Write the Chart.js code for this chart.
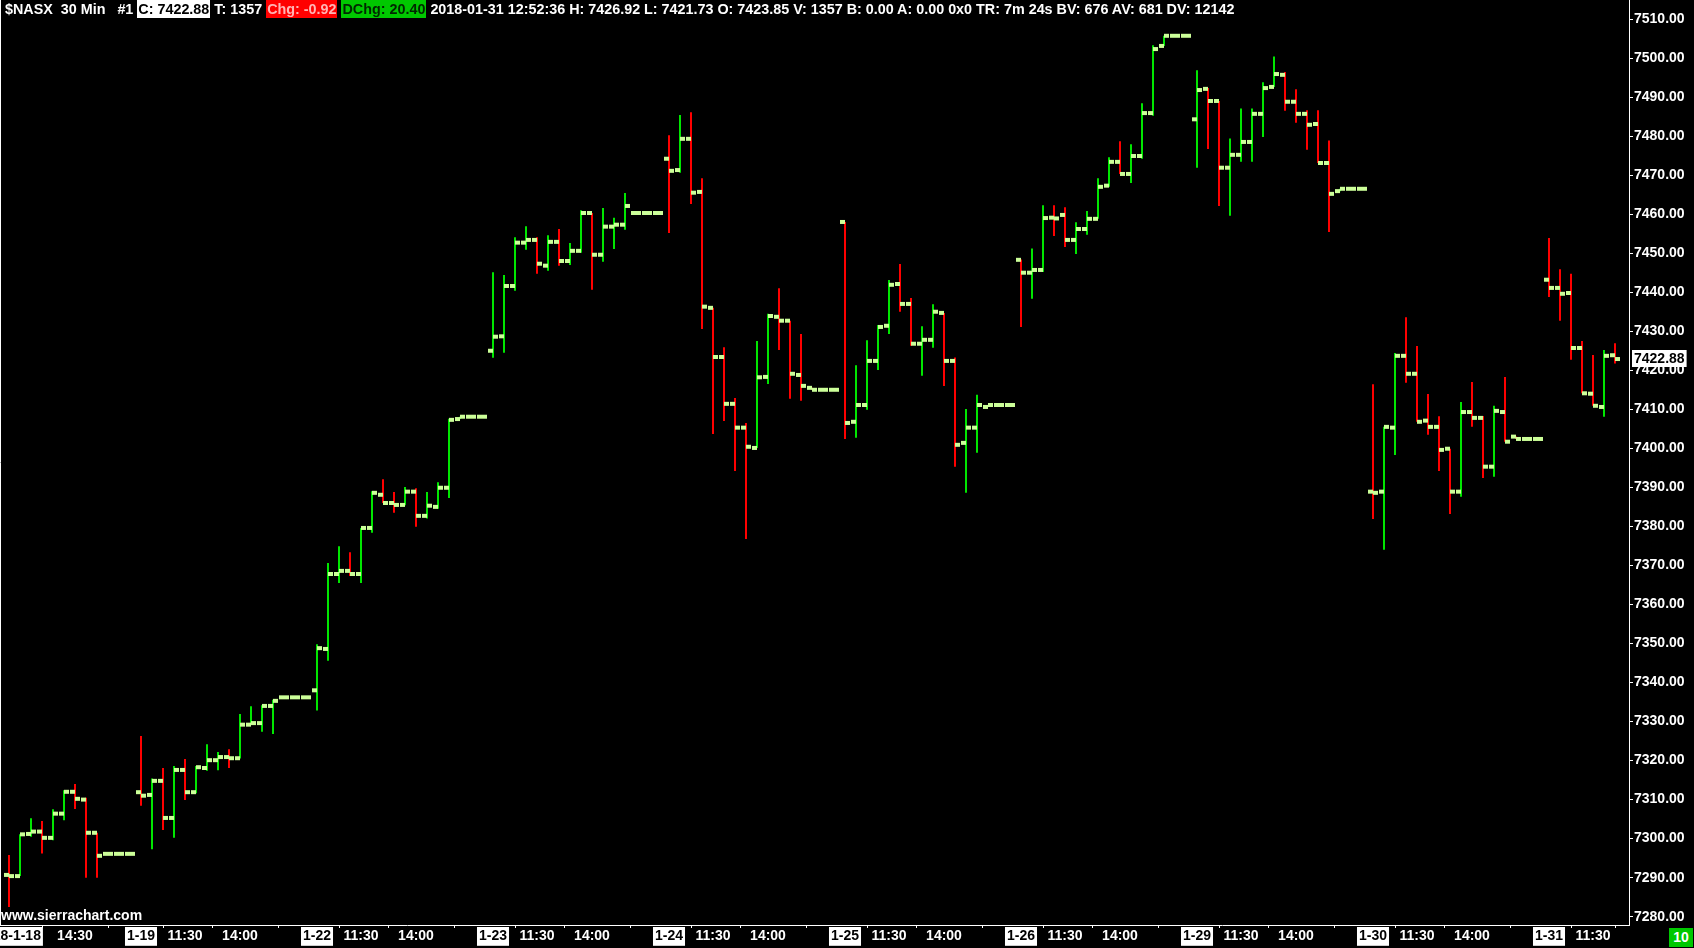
<!DOCTYPE html>
<html><head><meta charset="utf-8">
<script src="https://cdn.jsdelivr.net/npm/chart.js@4.4.1/dist/chart.umd.min.js"></script>
<style>
html,body{margin:0;padding:0;background:#000;overflow:hidden;}
#wrap{position:relative;width:1694px;height:948px;background:#000;}
#c{position:absolute;left:0;top:0;}
.txt{position:absolute;font-family:"Liberation Sans",Arial,sans-serif;font-weight:bold;font-size:14.35px;color:#fff;white-space:pre;}
#hdr{left:5px;top:0;height:18px;line-height:18px;}
#hdr .bx{display:inline-block;padding:0 1px;}
#hdr .w{background:#fff;color:#000;}
#hdr .r{background:#ff0000;color:#ffb4b4;}
#hdr .g{background:#00c800;color:#002800;}
#wm{left:1px;top:907px;line-height:17px;font-size:14px;}
#cnt{left:1669px;top:928px;width:24px;height:19px;line-height:19px;text-align:center;background:#00c800;font-size:14px;}
</style></head>
<body>
<div id="wrap">
<canvas id="c" width="1694" height="948"></canvas>
<div id="hdr" class="txt"></div>
<div id="wm" class="txt">www.sierrachart.com</div>
<div id="cnt" class="txt">10</div>
</div>
<script>
// ---- data: 30 min bars, 2018-01-18 11:30 .. 2018-01-31 12:30 ----
const opens = [
7290.7,7290.4,7301.2,7301.8,7300.2,7306.4,7312.0,7310.0,7301.5,7296.1,7296.1,7296.1,
7311.9,7311.2,7314.8,7305.3,7317.6,7311.9,7318.1,7320.1,7320.9,7320.6,7329.2,7329.6,7334.0,7336.2,7336.2,7336.2,
7338.0,7348.6,7367.8,7368.6,7367.8,7379.6,7388.1,7386.0,7385.5,7388.9,7382.7,7385.0,7389.9,7407.5,7408.1,7408.1,
7425.0,7428.7,7441.6,7452.7,7453.4,7446.8,7452.9,7448.0,7450.6,7460.3,7449.6,7456.8,7457.3,7460.3,7460.3,7460.3,
7474.2,7471.3,7479.3,7465.7,7436.0,7423.4,7411.4,7405.3,7400.1,7418.3,7433.7,7432.7,7418.8,7415.5,7415.0,7415.0,
7458.0,7406.8,7411.1,7422.4,7431.4,7442.1,7437.0,7426.8,7427.8,7434.7,7422.4,7401.4,7405.3,7410.6,7411.1,7411.1,
7448.3,7445.0,7445.7,7459.1,7459.8,7453.4,7456.2,7458.8,7467.3,7473.4,7470.3,7474.9,7485.9,7503.1,7505.7,7505.7,
7484.3,7492.1,7489.0,7471.9,7475.2,7478.5,7485.7,7492.6,7495.7,7488.8,7485.7,7483.1,7473.1,7465.9,7466.5,7466.5,
7388.9,7388.9,7405.3,7423.7,7419.1,7407.1,7405.5,7399.9,7388.9,7409.3,7407.8,7395.3,7409.3,7403.0,7402.4,7402.4,
7443.2,7441.1,7439.8,7425.7,7414.0,7410.6,7423.85];
const highs = [
7295.8,7301.1,7305.2,7304.5,7307.5,7312.4,7314.0,7310.5,7301.5,7296.1,7296.1,7296.1,
7326.3,7315.4,7318.1,7318.6,7320.4,7318.6,7324.2,7322.2,7322.9,7331.9,7333.9,7334.2,7335.6,7336.2,7336.2,7336.2,
7349.8,7370.6,7374.9,7373.4,7379.6,7389.0,7392.1,7388.8,7390.1,7389.8,7388.8,7391.3,7407.6,7408.1,7408.1,7408.1,
7445.1,7444.4,7454.1,7456.9,7454.1,7454.6,7456.2,7452.6,7461.0,7460.3,7461.6,7459.1,7465.4,7460.3,7460.3,7460.3,
7480.2,7485.4,7486.1,7469.2,7436.0,7425.9,7412.9,7406.5,7427.5,7434.5,7441.0,7432.7,7429.3,7415.5,7415.0,7415.0,
7458.0,7421.3,7427.7,7431.6,7443.1,7447.2,7438.5,7431.3,7436.9,7434.7,7423.3,7410.1,7413.7,7411.1,7411.1,7411.1,
7448.4,7451.2,7462.3,7462.3,7461.8,7457.9,7460.8,7469.2,7474.6,7478.7,7477.9,7488.4,7503.3,7505.7,7505.7,7505.7,
7496.9,7492.3,7489.0,7479.4,7487.1,7487.1,7493.8,7500.4,7496.4,7492.0,7486.6,7486.6,7478.9,7466.5,7466.5,7466.5,
7416.4,7405.5,7424.4,7433.6,7426.2,7413.9,7408.2,7399.9,7411.9,7417.0,7408.3,7410.9,7418.3,7403.0,7402.4,7402.4,
7453.9,7445.9,7444.7,7427.5,7423.9,7425.2,7426.92];
const lows = [
7282.5,7290.4,7300.5,7296.2,7299.6,7304.7,7307.6,7290.0,7290.0,7296.1,7296.1,7296.1,
7308.4,7297.3,7302.2,7300.2,7309.9,7311.6,7317.4,7317.5,7318.1,7320.5,7329.2,7327.4,7326.8,7336.2,7336.2,7336.2,
7332.8,7345.6,7365.5,7367.3,7365.5,7378.4,7386.0,7383.5,7385.4,7379.9,7382.0,7384.5,7387.3,7407.5,7408.1,7408.1,
7423.2,7424.5,7440.4,7450.9,7444.7,7445.5,7446.8,7447.0,7450.1,7440.6,7447.8,7451.1,7456.0,7460.3,7460.3,7460.3,
7455.2,7470.6,7462.6,7430.6,7403.7,7407.0,7394.2,7376.8,7400.1,7416.5,7425.2,7412.7,7412.2,7415.0,7415.0,7415.0,
7402.4,7402.7,7409.9,7420.1,7429.3,7435.0,7426.3,7418.6,7425.8,7416.0,7395.3,7388.6,7398.9,7410.6,7411.1,7411.1,
7431.1,7438.3,7445.2,7454.4,7451.6,7449.8,7454.7,7458.8,7467.0,7470.3,7468.0,7474.2,7485.2,7503.1,7505.7,7505.7,
7471.9,7476.7,7462.1,7459.6,7473.4,7473.4,7479.8,7492.6,7486.5,7483.4,7476.5,7473.1,7455.4,7465.9,7466.5,7466.5,
7381.9,7374.0,7398.3,7416.8,7406.8,7403.5,7394.2,7383.2,7387.6,7405.5,7392.4,7392.7,7401.7,7402.4,7402.4,7402.4,
7438.8,7432.7,7422.7,7414.1,7410.9,7408.1,7421.73];
const closes = [
7290.4,7301.1,7301.8,7300.2,7306.4,7312.0,7310.2,7301.5,7295.6,7296.1,7296.1,7296.1,
7311.0,7314.8,7305.3,7317.6,7311.9,7318.3,7320.1,7320.9,7320.6,7329.2,7329.6,7334.0,7335.3,7336.2,7336.2,7336.2,
7348.8,7367.8,7368.6,7367.8,7379.6,7388.6,7386.0,7385.5,7388.9,7382.7,7385.3,7389.9,7407.3,7408.1,7408.1,7408.1,
7428.6,7441.6,7452.7,7453.4,7447.3,7452.9,7448.0,7450.6,7460.3,7449.6,7456.8,7457.3,7462.1,7460.3,7460.3,7460.3,
7471.1,7479.3,7465.5,7436.3,7423.4,7411.4,7405.3,7400.4,7418.2,7433.9,7432.7,7419.1,7416.0,7415.0,7415.0,7415.0,
7406.5,7411.1,7422.4,7431.1,7441.9,7437.0,7426.8,7427.8,7435.0,7422.4,7400.9,7405.3,7411.1,7411.1,7411.1,7411.1,
7445.0,7445.7,7459.0,7458.9,7453.4,7456.2,7458.8,7467.0,7473.4,7470.3,7474.9,7485.9,7502.3,7505.7,7505.7,7505.7,
7491.8,7489.0,7471.9,7475.2,7478.5,7485.7,7492.3,7495.9,7488.8,7485.7,7482.9,7473.1,7465.2,7466.5,7466.5,7466.5,
7388.6,7405.5,7423.7,7419.1,7406.8,7405.5,7399.6,7388.9,7409.3,7407.8,7395.3,7409.6,7401.7,7402.4,7402.4,7402.4,
7441.1,7439.6,7425.7,7414.1,7410.9,7423.7,7422.88];

// x-axis tick labels (bar index -> label)
const xTickIdx    = [0, 6, 12, 16, 21, 28, 32, 37, 44, 48, 53, 60, 64, 69, 76, 80, 85, 92, 96, 101, 108, 112, 117, 124, 128, 133, 140, 144];
const xTickLabels = ["2018-1-18","14:30","1-19","11:30","14:00","1-22","11:30","14:00","1-23","11:30","14:00","1-24","11:30","14:00",
                     "1-25","11:30","14:00","1-26","11:30","14:00","1-29","11:30","14:00","1-30","11:30","14:00","1-31","11:30"];
const xTickIsDate = xTickLabels.map(s => s.indexOf(':') < 0);
// y-axis tick values
const yTickValues = [7280,7290,7300,7310,7320,7330,7340,7350,7360,7370,7380,7390,7400,7410,7420,7430,7440,7450,7460,7470,7480,7490,7500,7510];

// ---- layout / style constants ----
const PLOT_RIGHT = 1629, PLOT_BOTTOM = 925, BAR_PX = 11, FIRST_PX = 9;
const X_MIN = -FIRST_PX / BAR_PX, X_MAX = (PLOT_RIGHT - FIRST_PX) / BAR_PX;
const Y_MIN = 7277.87, Y_MAX = 7514.87;
const TICK_OFF = 2.5 / BAR_PX;
const UP = '#00e600', DOWN = '#ff0000', OC = '#ccff99';
const FONT = {family: '"Liberation Sans", Arial, sans-serif', size: 14, weight: 'bold'};

const N = closes.length;
const last = N - 1;
document.getElementById('hdr').innerHTML =
  '$NASX  30 Min   #1 <span class="bx w">C: ' + closes[last].toFixed(2) + '</span> T: 1357 ' +
  '<span class="bx r">Chg: -0.92</span> <span class="bx g">DChg: 20.40</span> 2018-01-31 12:52:36 ' +
  'H: ' + highs[last].toFixed(2) + ' L: ' + lows[last].toFixed(2) + ' O: ' + opens[last].toFixed(2) +
  ' V: 1357 B: 0.00 A: 0.00 0x0 TR: 7m 24s BV: 676 AV: 681 DV: 12142';

const bgPlugin = {
  id: 'bg',
  beforeDraw(chart) {
    const ctx = chart.ctx;
    ctx.save(); ctx.fillStyle = '#000'; ctx.fillRect(0, 0, chart.width, chart.height); ctx.restore();
  },
  afterDraw(chart) {
    const ctx = chart.ctx, ys = chart.scales.y, a = chart.chartArea;
    ctx.save();
    ctx.strokeStyle = '#fff'; ctx.lineWidth = 1;
    ctx.beginPath(); ctx.moveTo(0.5, 0); ctx.lineTo(0.5, a.bottom); ctx.stroke();
    const v = closes[last];
    const y = ys.getPixelForValue(v);
    ctx.font = 'bold 14px "Liberation Sans", Arial, sans-serif';
    const txt = v.toFixed(2);
    const w = ctx.measureText(txt).width;
    ctx.fillStyle = '#fff';
    ctx.fillRect(ys.left + 3, Math.round(y) - 9, w + 4, 17);
    ctx.fillStyle = '#000'; ctx.textBaseline = 'middle'; ctx.textAlign = 'left';
    ctx.fillText(txt, ys.left + 5, y + 0.5);
    ctx.restore();
  }
};

const idx = opens.map((_, i) => i);
new Chart(document.getElementById('c'), {
  type: 'bar',
  data: {
    datasets: [
      {
        type: 'scatter', label: 'open', order: 1,
        data: idx.map(i => ({x: i - TICK_OFF, y: opens[i]})),
        pointStyle: 'line', pointRadius: 2.5, pointHoverRadius: 2.5, pointBorderWidth: 4, pointHoverBorderWidth: 4,
        pointBorderColor: OC, pointBackgroundColor: OC
      },
      {
        type: 'scatter', label: 'close', order: 1,
        data: idx.map(i => ({x: i + TICK_OFF, y: closes[i]})),
        pointStyle: 'line', pointRadius: 2.5, pointHoverRadius: 2.5, pointBorderWidth: 4, pointHoverBorderWidth: 4,
        pointBorderColor: OC, pointBackgroundColor: OC
      },
      {
        type: 'bar', label: 'range', order: 2,
        data: idx.map(i => ({x: i, y: [lows[i], highs[i]]})),
        backgroundColor: idx.map(i => closes[i] >= opens[i] ? UP : DOWN),
        barThickness: 2, grouped: false, borderWidth: 0, inflateAmount: 0
      }
    ]
  },
  options: {
    responsive: false, animation: false, devicePixelRatio: 1, events: [],
    layout: {padding: 0, autoPadding: false},
    plugins: {legend: {display: false}, tooltip: {enabled: false}, title: {display: false}},
    scales: {
      x: {
        type: 'linear', position: 'bottom', min: X_MIN, max: X_MAX, offset: false,
        afterBuildTicks: s => { s.ticks = xTickIdx.map(v => ({value: v})); },
        afterFit: s => { s.height = 948 - PLOT_BOTTOM; s.paddingLeft = 0; s.paddingRight = 0; },
        ticks: {
          autoSkip: false, maxRotation: 0, minRotation: 0, padding: 0, font: FONT,
          callback: (v, i) => xTickLabels[i],
          color: c => xTickIsDate[c.index] ? '#000' : '#fff',
          showLabelBackdrop: c => xTickIsDate[c.index],
          backdropColor: '#fff',
          backdropPadding: {top: 1, bottom: 1, left: 2, right: 2}
        },
        grid: {drawOnChartArea: false, drawTicks: true, tickLength: 3, color: '#fff', tickColor: '#fff'},
        border: {display: true, color: '#fff', width: 1}
      },
      y: {
        type: 'linear', position: 'right', min: Y_MIN, max: Y_MAX,
        afterBuildTicks: s => { s.ticks = yTickValues.map(v => ({value: v})); },
        afterFit: s => { s.width = 1694 - PLOT_RIGHT; s.paddingTop = 0; s.paddingBottom = 0; },
        ticks: {autoSkip: false, padding: 1, color: '#fff', font: FONT, callback: v => v.toFixed(2)},
        grid: {drawOnChartArea: false, drawTicks: true, tickLength: 4, color: '#fff', tickColor: '#fff'},
        border: {display: true, color: '#fff', width: 1}
      }
    }
  },
  plugins: [bgPlugin]
});
</script>
</body></html>
